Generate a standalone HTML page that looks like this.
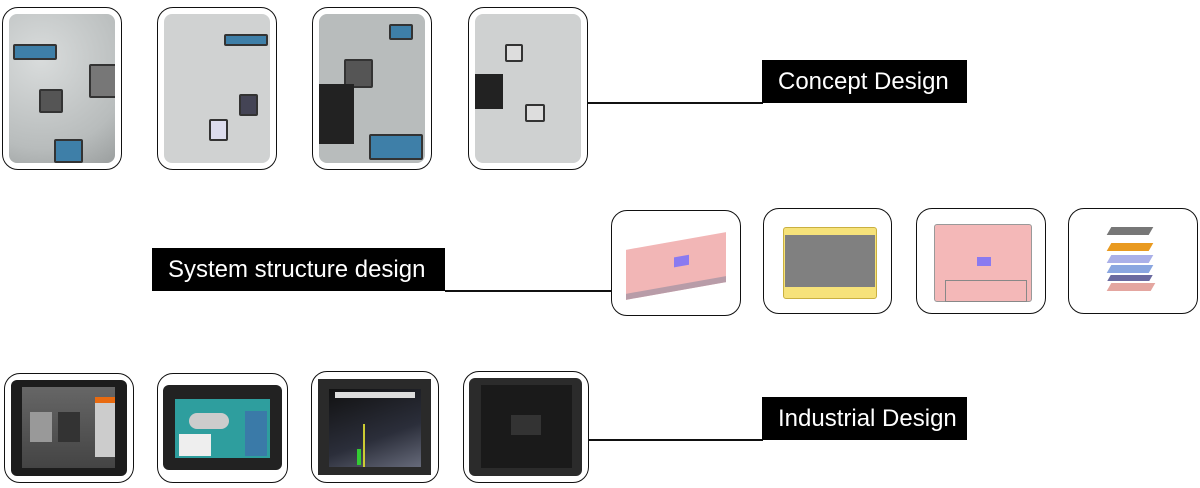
<!DOCTYPE html>
<html><head><style>
body{margin:0;width:1200px;height:488px;background:#fff;position:relative;overflow:hidden;font-family:"Liberation Sans",sans-serif}
.f{position:absolute;border:1.5px solid #111;border-radius:16px;box-sizing:border-box;background:#fff;overflow:hidden}
.in{position:absolute;border-radius:8px;overflow:hidden}
.lab{position:absolute;background:#000;color:#fff;font-size:24px;line-height:43px;height:43px;box-sizing:border-box;padding-left:16px}
.ln{position:absolute;height:1.5px;background:#111}
.sk{background:radial-gradient(circle at 30% 30%,#d9dcdc,#b8bcbc 70%,#9a9e9e)}
.b{position:absolute;background:#3e7fa8;border:2px solid #333;border-radius:2px}
.tab{position:absolute;background:#1c1c1c;border-radius:6px}
</style></head><body>
<!-- top row -->
<div class="f" style="left:2px;top:7px;width:120px;height:163px"><div class="in sk" style="left:6px;top:6px;right:6px;bottom:6px">
<div class="b" style="left:4px;top:30px;width:40px;height:12px"></div><div class="b" style="left:30px;top:75px;width:20px;height:20px;background:#555"></div><div class="b" style="left:45px;top:125px;width:25px;height:20px"></div><div class="b" style="left:80px;top:50px;width:25px;height:30px;background:#777"></div></div></div>
<div class="f" style="left:157px;top:7px;width:120px;height:163px"><div class="in sk" style="left:6px;top:6px;right:6px;bottom:6px;background:#d0d2d2">
<div class="b" style="left:60px;top:20px;width:40px;height:8px"></div><div class="b" style="left:75px;top:80px;width:15px;height:18px;background:#445"></div><div class="b" style="left:45px;top:105px;width:15px;height:18px;background:#dde"></div></div></div>
<div class="f" style="left:312px;top:7px;width:120px;height:163px"><div class="in sk" style="left:6px;top:6px;right:6px;bottom:6px;background:#b8bcbc">
<div class="b" style="left:25px;top:45px;width:25px;height:25px;background:#555"></div><div class="b" style="left:50px;top:120px;width:50px;height:22px"></div><div style="position:absolute;left:0;top:70px;width:35px;height:60px;background:#222"></div><div class="b" style="left:70px;top:10px;width:20px;height:12px"></div></div></div>
<div class="f" style="left:468px;top:7px;width:120px;height:163px"><div class="in sk" style="left:6px;top:6px;right:6px;bottom:6px;background:#cfd1d1">
<div style="position:absolute;left:0;top:60px;width:28px;height:35px;background:#222"></div><div class="b" style="left:50px;top:90px;width:16px;height:14px;background:#ddd"></div><div class="b" style="left:30px;top:30px;width:14px;height:14px;background:#ddd"></div></div></div>
<div class="ln" style="left:588px;top:102px;width:175px"></div>
<div class="lab" style="left:762px;top:60px;width:205px">Concept Design</div>

<!-- middle -->
<div class="lab" style="left:152px;top:248px;width:293px">System structure design</div>
<div class="ln" style="left:445px;top:290px;width:167px"></div>
<div class="f" style="left:611px;top:210px;width:130px;height:106px"><div style="position:absolute;left:14px;top:30px;width:100px;height:44px;background:#f2b6b6;border-bottom:6px solid #b89ca8;transform:skewY(-10deg)"><div style="position:absolute;left:48px;top:16px;width:15px;height:10px;background:#8a7af0"></div></div></div>
<div class="f" style="left:763px;top:208px;width:129px;height:106px"><div style="position:absolute;left:19px;top:18px;width:92px;height:70px;background:#f6e27a;border:1.5px solid #c9b040;border-radius:3px"><div style="position:absolute;left:1px;top:7px;right:1px;bottom:11px;background:#808080"></div></div></div>
<div class="f" style="left:916px;top:208px;width:130px;height:106px"><div style="position:absolute;left:17px;top:15px;width:96px;height:76px;background:#f4b8b8;border:1.5px solid #999;border-radius:3px"><div style="position:absolute;left:42px;top:32px;width:14px;height:9px;background:#8a7af0"></div><div style="position:absolute;left:10px;top:55px;width:80px;height:20px;border:1px solid #888"></div></div></div>
<div class="f" style="left:1068px;top:208px;width:130px;height:106px">
<div style="position:absolute;left:40px;top:18px;width:42px;height:8px;background:#777;transform:skewX(-30deg)"></div>
<div style="position:absolute;left:40px;top:34px;width:42px;height:8px;background:#e99a20;transform:skewX(-30deg)"></div>
<div style="position:absolute;left:40px;top:46px;width:42px;height:8px;background:#aab0e8;transform:skewX(-30deg)"></div>
<div style="position:absolute;left:40px;top:56px;width:42px;height:8px;background:#8aa6e0;transform:skewX(-30deg)"></div>
<div style="position:absolute;left:40px;top:66px;width:42px;height:6px;background:#6a6aa0;transform:skewX(-30deg)"></div>
<div style="position:absolute;left:40px;top:74px;width:44px;height:8px;background:#e4a6a0;transform:skewX(-30deg)"></div></div>

<!-- bottom -->
<div class="f" style="left:4px;top:373px;width:130px;height:110px"><div class="tab" style="left:6px;top:6px;right:6px;bottom:6px"><div style="position:absolute;left:11px;top:7px;right:12px;bottom:8px;background:linear-gradient(#666,#444)"><div style="position:absolute;left:8px;top:25px;width:22px;height:30px;background:#999"></div><div style="position:absolute;left:36px;top:25px;width:22px;height:30px;background:#333"></div><div style="position:absolute;right:0;top:10px;width:20px;height:60px;background:#ccc"><div style="height:6px;background:#e86a10"></div></div></div></div></div>
<div class="f" style="left:157px;top:373px;width:131px;height:110px"><div class="tab" style="left:5px;top:11px;right:5px;bottom:12px;background:#222"><div style="position:absolute;left:12px;top:14px;right:12px;bottom:12px;background:#2e9e9e"><div style="position:absolute;left:4px;bottom:2px;width:32px;height:22px;background:#eee"></div><div style="position:absolute;right:3px;top:12px;width:22px;height:45px;background:#3a7aa8"></div><div style="position:absolute;left:14px;top:14px;width:40px;height:16px;background:#ccc;border-radius:8px"></div></div></div></div>
<div class="f" style="left:311px;top:371px;width:128px;height:112px"><div style="position:absolute;left:6px;top:7px;right:7px;bottom:7px;background:#2a2a2a"><div style="position:absolute;left:11px;top:10px;right:10px;bottom:8px;overflow:hidden;background:linear-gradient(160deg,#111,#2b2e3a 60%,#666a7a)"><div style="position:absolute;left:6px;top:3px;width:80px;height:6px;background:#ddd"></div><div style="position:absolute;left:34px;top:35px;width:2px;height:45px;background:#cc3"></div><div style="position:absolute;left:28px;top:60px;width:4px;height:16px;background:#3c3"></div></div></div></div>
<div class="f" style="left:463px;top:371px;width:126px;height:112px"><div class="tab" style="left:5px;top:6px;right:6px;bottom:6px;background:#2b2b2b"><div style="position:absolute;left:12px;top:7px;right:10px;bottom:8px;background:#1a1a1a"><div style="position:absolute;left:30px;top:30px;width:30px;height:20px;background:#333"></div></div></div></div>
<div class="ln" style="left:588px;top:439px;width:175px"></div>
<div class="lab" style="left:762px;top:397px;width:205px">Industrial Design</div>
</body></html>
